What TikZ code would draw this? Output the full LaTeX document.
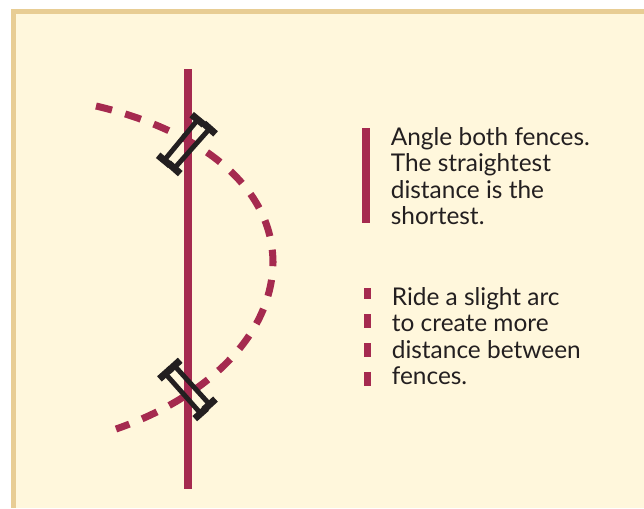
\documentclass[tikz,border=0pt]{standalone}
\usepackage{fontspec}
\setmainfont{Lato}
\usetikzlibrary{arrows.meta}
\definecolor{cream}{HTML}{FFF7DC}
\definecolor{tan}{HTML}{E8CD94}
\definecolor{crimson}{HTML}{A52A4F}
\definecolor{ink}{HTML}{231F20}
\begin{document}
\begin{tikzpicture}[
    x=0.02cm, y=-0.02cm,
    track/.style={crimson, line width=4.5pt},
    arcline/.style={crimson, line width=4pt, dash pattern=on 0.33cm off 0.275cm},
    rail/.style={ink, line width=2.8pt, {Bar[width=9pt,line width=4pt]}-{Bar[width=9pt,line width=4pt]}},
    note/.style={anchor=north west, inner sep=0pt, align=left, text=ink, font=\fontsize{13.9}{15.05}\selectfont}
]
\useasboundingbox (0,0) rectangle (644,508);
\fill[white] (0,0) rectangle (644,508);
\fill[tan] (11,9) rectangle (644,508);
\fill[cream] (16,14) rectangle (644,508);

% lines
\draw[track] (188,69) -- (188,489);
\draw[arcline] (96,106) .. controls (190,128) and (272,180) .. (273,262)
    .. controls (272,340) and (200,400) .. (116,429);

% fences
\draw[rail] (200,117) -- (162,163);
\draw[rail] (212,126) -- (172,171);
\draw[rail] (163,371) -- (203,416);
\draw[rail] (172,363) -- (212,407);

% key
\draw[track] (366,128) -- (366,223);
\draw[crimson, line width=4pt, dash pattern=on 0.28cm off 0.3cm, dash phase=0.06cm] (367.5,288) -- (367.5,388);
\node[note] (straight) at (390.5,127) {Angle both fences.\\The straightest\\distance is the\\shortest.};
\node[note] (curved) at (391.5,287) {Ride a slight arc\\to create more\\distance between\\fences.};
\end{tikzpicture}
\end{document}
